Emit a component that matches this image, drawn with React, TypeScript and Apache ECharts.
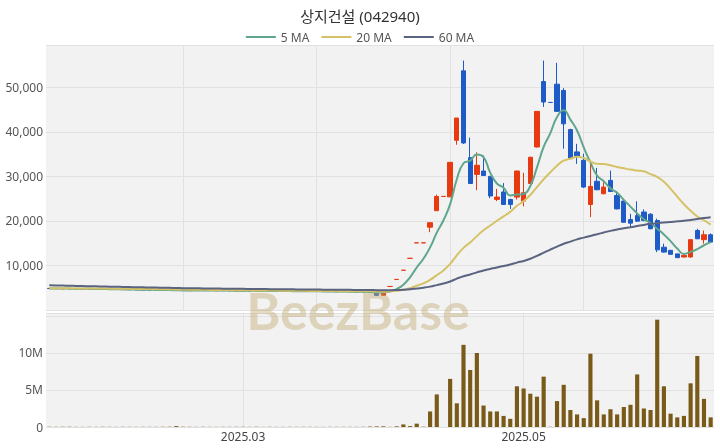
import React, { useEffect, useRef } from 'react';
import * as echarts from 'echarts';

const monthDays: [string, number[]][] = [
  ['01', [15, 16, 17, 20, 21, 22, 23, 24, 31]],
  ['02', [3, 4, 5, 6, 7, 10, 11, 12, 13, 14, 17, 18, 19, 20, 21, 24, 25, 26, 27, 28]],
  ['03', [4, 5, 6, 7, 10, 11, 12, 13, 14, 17, 18, 19, 20, 21, 24, 25, 26, 27, 28, 31]],
  ['04', [1, 2, 3, 4, 7, 8, 9, 10, 11, 14, 15, 16, 17, 18, 21, 22, 23, 24, 25, 28, 29, 30]],
  ['05', [2, 7, 8, 9, 12, 13, 14, 15, 16, 19, 20, 21, 22, 23, 26, 27, 28, 29, 30]],
  ['06', [2, 4, 5, 9, 10, 11, 12, 13, 16, 17]],
];
const dates: string[] = [];
monthDays.forEach(([m, days]) => days.forEach((d) => dates.push(`2025-${m}-${d < 10 ? '0' + d : d}`)));

const xLabelDates = ['2025-03-04', '2025-05-02'];

// closes before the visible window (used only to seed the moving averages)
const priorCloses = [
  6900, 6860, 6800, 6760, 6720, 6680, 6640, 6600, 6560, 6520, 6480, 6440, 6400, 6360, 6320, 6280, 6240, 6200, 6160, 6120,
  5600, 5560, 5500, 5450, 5420, 5380, 5350, 5300, 5280, 5250, 5200, 5170, 5150, 5120, 5100, 5080, 5050, 5030, 5000, 4980,
  4960, 4950, 4940, 4930, 4920, 4910, 4900, 4900, 4890, 4880, 4880, 4870, 4860, 4860, 4850, 4850, 4840, 4840, 4830,
];

const opens = [
  4850, 4830, 4780, 4800, 4770, 4720, 4740, 4710, 4690, 4620, 4650, 4570, 4600, 4560, 4550, 4530, 4500, 4430, 4460, 4420,
  4390, 4340, 4370, 4420, 4400, 4340, 4370, 4350, 4290, 4320, 4310, 4260, 4290, 4270, 4220, 4260, 4240, 4230, 4210, 4160,
  4200, 4180, 4170, 4110, 4150, 4130, 4070, 4100, 4080, 3950, 3300,
  5280, 6860, 8920, 11600, 15080, 15080, 18600, 22300, 25500, 25400,
  38100, 53700, 34200, 30450, 31200, 30000, 24830, 26500, 24800, 25350,
  24450, 28400, 36600, 51300, 46600, 50700, 49300, 40500, 35500, 33600,
  23700, 28900, 26100, 29100, 25700, 24450, 20300, 21200, 22000, 21500,
  20100, 14100, 13400, 12600, 11900, 11900, 17850, 15800, 16900,
];
const closes = [
  4820, 4800, 4790, 4760, 4750, 4740, 4700, 4680, 4650, 4640, 4600, 4590, 4560, 4540, 4520, 4500, 4470, 4450, 4420, 4380,
  4350, 4380, 4400, 4390, 4370, 4360, 4340, 4320, 4310, 4300, 4290, 4280, 4260, 4250, 4240, 4230, 4220, 4200, 4190, 4180,
  4170, 4160, 4140, 4130, 4120, 4100, 4090, 4070, 4050, 3300, 4060,
  5280, 6860, 8920, 11600, 15080, 15080, 19600, 25500, 25500, 33150,
  43100, 37500, 28400, 32500, 30200, 25600, 25350, 23700, 23700, 31200,
  26330, 34300, 44600, 46700, 46600, 44600, 41800, 34000, 34500, 27600,
  27750, 27000, 27600, 26600, 22700, 19700, 19500, 19950, 20100, 18250,
  13500, 13000, 12500, 11750, 12250, 15800, 16000, 16900, 15250,
];
const lows = [
  4800, 4780, 4760, 4740, 4730, 4710, 4680, 4660, 4630, 4600, 4580, 4550, 4540, 4520, 4500, 4480, 4450, 4410, 4400, 4360,
  4330, 4320, 4350, 4370, 4350, 4320, 4320, 4300, 4270, 4280, 4270, 4240, 4240, 4230, 4200, 4210, 4200, 4180, 4170, 4140,
  4150, 4140, 4120, 4090, 4100, 4080, 4050, 4050, 4030, 3250, 3200,
  5280, 6860, 8920, 11600, 15080, 15080, 17480, 22300, 25500, 25350,
  37100, 37300, 28300, 26900, 30100, 25100, 24450, 23600, 22700, 24800,
  23260, 28300, 36500, 45600, 46600, 44500, 36200, 33900, 32800, 27400,
  20850, 26900, 26000, 26500, 22600, 19600, 18600, 19800, 19900, 18100,
  13000, 12900, 12400, 11700, 11800, 11800, 15900, 14900, 15100,
];
const highs = [
  4870, 4850, 4810, 4820, 4790, 4750, 4760, 4730, 4710, 4650, 4670, 4600, 4620, 4580, 4570, 4550, 4520, 4460, 4480, 4440,
  4410, 4400, 4420, 4440, 4420, 4380, 4390, 4370, 4320, 4330, 4330, 4290, 4300, 4290, 4260, 4280, 4260, 4250, 4230, 4200,
  4220, 4200, 4190, 4150, 4160, 4150, 4110, 4120, 4100, 3980, 4100,
  5280, 6860, 8920, 11600, 15080, 15080, 19650, 25900, 25500, 33150,
  43100, 56000, 38700, 35400, 34700, 30100, 27200, 28500, 25000, 31300,
  30800, 34400, 44600, 56000, 46600, 55500, 49800, 40700, 37300, 35100,
  33200, 31900, 28700, 31300, 26700, 24800, 21600, 24400, 22600, 21750,
  20500, 14900, 13400, 12650, 12500, 15800, 18250, 17850, 17200,
];
const volumes = [
  30000, 25000, 20000, 35000, 22000, 18000, 26000, 21000, 30000, 24000, 20000, 28000, 22000, 19000, 25000, 21000, 23000, 30000, 40000, 120000,
  35000, 25000, 22000, 28000, 20000, 18000, 24000, 21000, 26000, 30000, 22000, 20000, 18000, 25000, 21000, 19000, 23000, 20000, 24000, 22000,
  20000, 18000, 21000, 19000, 23000, 20000, 22000, 25000, 60000, 80000, 90000,
  20000, 90000, 350000, 120000, 450000, 40000, 2100000, 4400000, 0, 6500000,
  3200000, 11100000, 7700000, 10000000, 2900000, 2100000, 2100000, 1500000, 1100000, 5500000,
  5200000, 4500000, 4100000, 6800000, 30000, 3500000, 5700000, 2300000, 1700000, 1200000,
  9900000, 3600000, 1700000, 2400000, 1700000, 2700000, 3000000, 7100000, 2500000, 2300000,
  14500000, 5500000, 1800000, 1300000, 1500000, 5900000, 9600000, 3800000, 1300000,
];

const maSpecs: [string, number, string][] = [
  ['5 MA', 5, '#5fa68d'],
  ['20 MA', 20, '#d6c266'],
  ['60 MA', 60, '#5a6380'],
];

function movingAverage(n: number): number[] {
  const all = [...priorCloses, ...closes];
  return closes.map((_, i) => {
    const end = priorCloses.length + i;
    let s = 0;
    for (let k = end - n + 1; k <= end; k++) s += all[k];
    return Math.round((s / n) * 10) / 10;
  });
}

const FONT = "'Noto Sans', 'Noto Sans CJK KR', sans-serif";

export default function App() {
  const ref = useRef<HTMLDivElement>(null);
  useEffect(() => {
    if (!ref.current) return;
    const chart = echarts.init(ref.current, undefined, { renderer: 'svg' });
    const candle = dates.map((_, i) => [opens[i], closes[i], lows[i], highs[i]]);
    const labelIdx = xLabelDates.map((d) => dates.indexOf(d));
    const bg = '#f2f2f2';
    const gridLine = '#e1e1e1';
    chart.setOption({
      animation: false,
      textStyle: { fontFamily: FONT },
      title: {
        text: '상지건설 (042940)',
        left: 'center',
        top: 3,
        textStyle: { fontSize: 15, fontWeight: 'normal', color: '#333', fontFamily: FONT },
      },
      legend: {
        data: maSpecs.map((m) => m[0]),
        top: 26,
        left: 'center',
        icon: 'rect',
        itemWidth: 30,
        itemHeight: 2,
        itemGap: 12,
        textStyle: { fontSize: 12, color: '#555' },
      },
      grid: [
        { left: 46, right: 6, top: 45, height: 265, show: true, backgroundColor: bg, borderWidth: 0 },
        { left: 46, right: 6, top: 313, height: 114, show: true, backgroundColor: bg, borderWidth: 0 },
      ],
      xAxis: [
        {
          type: 'category',
          data: dates,
          gridIndex: 0,
          boundaryGap: true,
          axisLine: { show: false },
          axisTick: { show: false },
          axisLabel: { show: false },
          splitLine: {
            show: true,
            alignWithLabel: true,
            interval: (i: number) => i > 0 && i % 20 === 0,
            lineStyle: { color: gridLine, width: 1 },
          },
        },
        {
          type: 'category',
          data: dates,
          gridIndex: 1,
          boundaryGap: true,
          axisLine: { show: false },
          axisTick: { show: false },
          axisLabel: {
            interval: (i: number) => labelIdx.includes(i),
            formatter: (v: string) => v.slice(0, 7).replace('-', '.'),
            fontSize: 12,
            color: '#444',
            margin: 3,
          },
          splitLine: {
            show: true,
            alignWithLabel: true,
            interval: (i: number) => labelIdx.includes(i),
            lineStyle: { color: gridLine, width: 1 },
          },
        },
      ],
      yAxis: [
        {
          type: 'value',
          gridIndex: 0,
          min: 0,
          max: 59500,
          interval: 10000,
          axisLine: { show: false },
          axisTick: { show: false },
          axisLabel: {
            showMinLabel: false,
            showMaxLabel: false,
            fontSize: 12,
            color: '#555',
            margin: 3,
            formatter: (v: number) => v.toLocaleString('en-US'),
          },
          splitLine: { lineStyle: { color: gridLine } },
        },
        {
          type: 'value',
          gridIndex: 1,
          min: 0,
          max: 15400000,
          interval: 5000000,
          axisLine: { show: false },
          axisTick: { show: false },
          axisLabel: {
            showMaxLabel: false,
            fontSize: 12,
            color: '#555',
            margin: 3,
            formatter: (v: number) => (v === 0 ? '0' : v >= 15000000 ? '' : v / 1000000 + 'M'),
          },
          splitLine: { lineStyle: { color: gridLine } },
        },
      ],
      series: [
        {
          type: 'candlestick',
          name: 'price',
          xAxisIndex: 0,
          yAxisIndex: 0,
          data: candle,
          barWidth: '72%',
          itemStyle: {
            color: '#e83a10',
            color0: '#1f5bc7',
            borderColor: '#e83a10',
            borderColor0: '#1f5bc7',
            borderWidth: 1,
          },
        },
        ...maSpecs.map(([name, n, color]) => ({
          type: 'line',
          name,
          xAxisIndex: 0,
          yAxisIndex: 0,
          data: movingAverage(n),
          symbol: 'none',
          smooth: true,
          lineStyle: { color, width: 2 },
          itemStyle: { color },
        })),
        {
          type: 'bar',
          name: 'volume',
          xAxisIndex: 1,
          yAxisIndex: 1,
          data: volumes,
          barWidth: '62%',
          itemStyle: { color: '#7a5a18' },
        },
      ],
      graphic: [
        {
          type: 'text',
          x: 358,
          y: 310,
          z: 100,
          silent: true,
          style: {
            text: 'BeezBase',
            fontSize: 52,
            fontWeight: 'bold',
            fontFamily: 'Lato, sans-serif',
            fill: 'rgba(190,170,110,0.42)',
            textAlign: 'center',
            textVerticalAlign: 'middle',
          },
        },
      ],
    });
    return () => chart.dispose();
  }, []);
  return <div ref={ref} style={{ position: 'fixed', left: 0, top: 0, width: 720, height: 448 }} />;
}
